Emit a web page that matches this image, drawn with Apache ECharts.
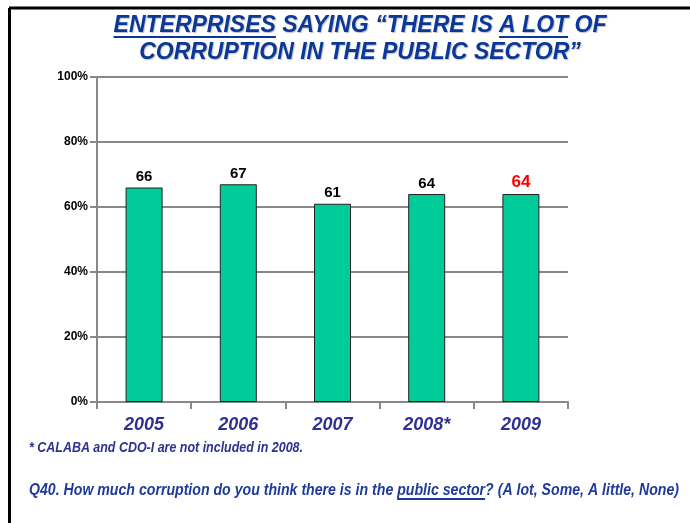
<!DOCTYPE html>
<html>
<head>
<meta charset="utf-8">
<script src="https://cdn.jsdelivr.net/npm/echarts@6/dist/echarts.min.js"></script>
<style>
html,body{margin:0;padding:0;background:#fff;}
#chart{width:690px;height:523px;}
</style>
</head>
<body>
<div id="chart"></div>
<script>
// ---- data ----
const categories = ['2005', '2006', '2007', '2008*', '2009'];
const values = [66, 67, 61, 64, 64];
const highlightIndex = 4;
const yTicks = [0, 20, 40, 60, 80, 100];
const titleLine1 = 'ENTERPRISES SAYING \u201CTHERE IS A LOT OF';
const titleLine2 = 'CORRUPTION IN THE PUBLIC SECTOR\u201D';
const underlined1 = ['ENTERPRISES', 'A LOT'];
const footnote = '* CALABA and CDO-I are not included in 2008.';
const question = 'Q40. How much corruption do you think there is in the public sector? (A lot, Some, A little, None)';
const questionUnderline = 'public sector';

// ---- helpers ----
const mctx = document.createElement('canvas').getContext('2d');
function measure(font, text) { mctx.font = font; return mctx.measureText(text).width; }

const titleFont = 'italic bold 23px "Liberation Sans", Arial, sans-serif';
const titleCX = 360;
const titleColor = '#0A3899';
const line1W = measure(titleFont, titleLine1);
const line1X0 = titleCX - line1W / 2;
const underlineY1 = 37;

// footnote (condensed bold italic)
const fnFont = 'italic bold 15px "Liberation Sans", Arial, sans-serif';
const fnScale = 274 / measure(fnFont, footnote);

// question (slightly condensed bold italic)
const qFont = 'italic bold 16px "Liberation Sans", Arial, sans-serif';
const qX = 29, qY = 491;
const qColor = '#1F3A9A';
const qScale = 650 / measure(qFont, question);
const qIdx = question.indexOf(questionUnderline);
const qU0 = measure(qFont, question.slice(0, qIdx));
const qU1 = qU0 + measure(qFont, questionUnderline);

const graphics = [
  // frame
  { type: 'line', shape: { x1: 9, y1: 8, x2: 690, y2: 8 }, style: { stroke: '#000', lineWidth: 3 } },
  { type: 'line', shape: { x1: 9.5, y1: 8, x2: 9.5, y2: 523 }, style: { stroke: '#000', lineWidth: 3 } },
  // footnote
  { type: 'text', x: 29, y: 448, scaleX: fnScale, style: { text: footnote, font: fnFont, fill: '#2E3192', verticalAlign: 'middle', align: 'left' } },
  // question
  { type: 'group', x: qX, y: qY, scaleX: qScale, children: [
    { type: 'text', x: 0, y: 0, style: { text: question, font: qFont, fill: qColor, verticalAlign: 'middle', align: 'left' } },
    { type: 'line', shape: { x1: qU0, y1: 8, x2: qU1, y2: 8 }, style: { stroke: qColor, lineWidth: 2 } }
  ] }
];
// title underlines
underlined1.forEach(function (w) {
  const idx = titleLine1.indexOf(w);
  const x0 = line1X0 + measure(titleFont, titleLine1.slice(0, idx));
  const x1 = x0 + measure(titleFont, w);
  graphics.push({ type: 'line', shape: { x1: x0, y1: underlineY1, x2: x1, y2: underlineY1 }, style: { stroke: titleColor, lineWidth: 2 } });
});

const chart = echarts.init(document.getElementById('chart'), null, { renderer: 'canvas' });
chart.setOption({
  animation: false,
  backgroundColor: '#fff',
  title: {
    text: titleLine1 + '\n' + titleLine2,
    left: titleCX,
    textAlign: 'center',
    top: 12,
    padding: 0,
    textStyle: {
      fontFamily: '"Liberation Sans", Arial, sans-serif',
      fontStyle: 'italic',
      fontWeight: 'bold',
      fontSize: 23,
      lineHeight: 27,
      color: titleColor,
      textShadowColor: 'rgba(0,0,0,0.25)',
      textShadowBlur: 1,
      textShadowOffsetX: 1,
      textShadowOffsetY: 1
    }
  },
  grid: { left: 97, right: 122, top: 77, bottom: 121, containLabel: false },
  xAxis: {
    type: 'category',
    data: categories,
    axisLine: { lineStyle: { color: '#888', width: 2 } },
    axisTick: { show: true, length: 7, lineStyle: { color: '#888', width: 2 } },
    axisLabel: {
      margin: 14,
      fontFamily: '"Liberation Sans", Arial, sans-serif',
      fontStyle: 'italic',
      fontWeight: 'bold',
      fontSize: 18,
      color: '#2E3192'
    }
  },
  yAxis: {
    type: 'value',
    min: yTicks[0],
    max: yTicks[yTicks.length - 1],
    interval: yTicks[1] - yTicks[0],
    axisLine: { show: true, lineStyle: { color: '#888', width: 2 } },
    axisTick: { show: true, length: 7, lineStyle: { color: '#888', width: 2 } },
    splitLine: { lineStyle: { color: '#888', width: 2 } },
    axisLabel: {
      margin: 9,
      formatter: '{value}%',
      fontFamily: '"Liberation Sans", Arial, sans-serif',
      fontWeight: 'bold',
      fontSize: 12,
      color: '#000'
    }
  },
  series: [{
    type: 'bar',
    data: values.map(function (v, i) {
      return i === highlightIndex ? { value: v, label: { color: '#FF0000', fontSize: 17 } } : v;
    }),
    barWidth: 37,
    itemStyle: { color: '#00CC99', borderColor: '#222', borderWidth: 1 },
    label: {
      show: true,
      position: 'top',
      distance: 3,
      fontFamily: '"Liberation Sans", Arial, sans-serif',
      fontWeight: 'bold',
      fontSize: 15,
      color: '#000'
    }
  }],
  graphic: graphics
});
</script>
</body>
</html>
